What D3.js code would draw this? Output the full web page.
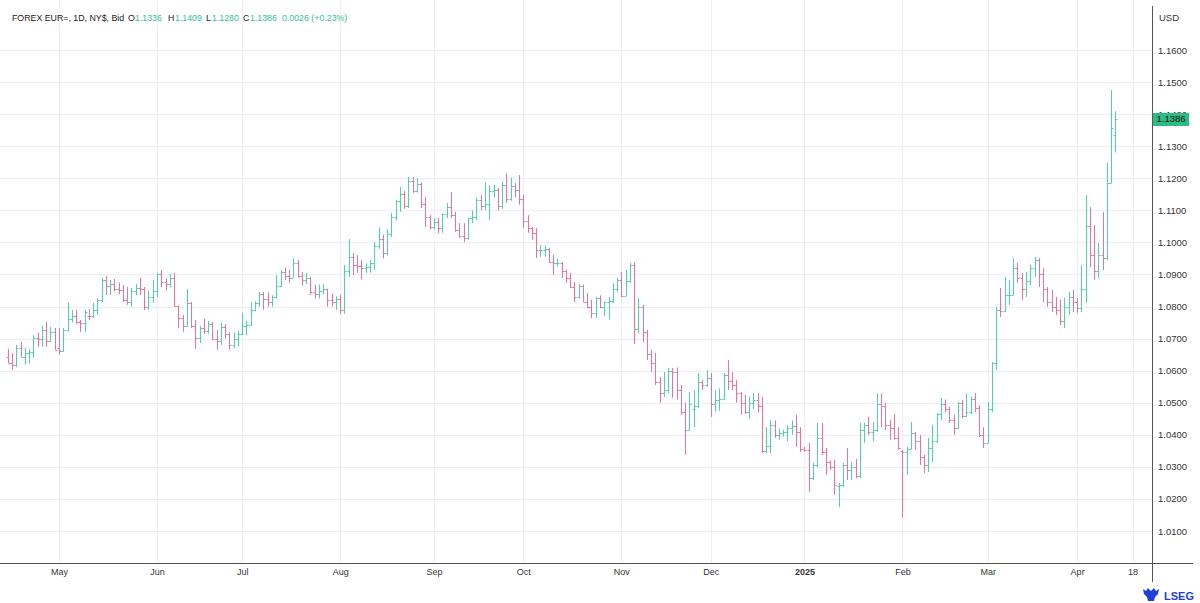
<!DOCTYPE html>
<html>
<head>
<meta charset="utf-8">
<script src="https://cdn.jsdelivr.net/npm/d3@7"></script>
<style>
  body { margin: 0; background: #fff; }
  svg { display: block; font-family: "Liberation Sans", Arial, sans-serif; }
</style>
</head>
<body>
<div id="chart"></div>
<script>
// EUR= daily OHLC, 15 Apr 2024 .. 14 Apr 2025 (one value per weekday)
const firstDay = "2024-04-15";
const lastDay = "2025-04-18";

const open = [
  1.0643,1.0625,1.0617,1.0672,1.0643,1.0655,1.0658,1.0703,1.0698,1.0728,1.0693,1.0720,
  1.0670,1.0660,1.0727,1.0761,1.0770,1.0753,1.0748,1.0772,1.0771,1.0790,1.0820,1.0883,1.0865,1.0870,1.0855,1.0853,1.0820,1.0815,1.0847,1.0857,1.0855,1.0800,1.0830,
  1.0848,1.0902,1.0876,1.0870,1.0890,1.0801,1.0765,1.0740,1.0810,1.0740,1.0702,1.0732,1.0725,1.0745,1.0700,1.0692,1.0735,1.0713,1.0680,1.0700,
  1.0713,1.0740,1.0743,1.0790,1.0810,1.0840,1.0825,1.0813,1.0830,1.0865,1.0908,1.0895,1.0890,1.0937,1.0895,1.0882,1.0890,1.0845,1.0840,1.0850,1.0855,1.0820,1.0815,
  1.0825,1.0790,1.0910,1.0955,1.0930,1.0925,1.0920,1.0922,1.0935,1.0990,1.1012,1.0968,1.1027,1.1080,1.1128,1.1150,1.1113,1.1190,1.1160,1.1183,1.1120,1.1078,
  1.1047,1.1065,1.1045,1.1088,1.1110,1.1085,1.1040,1.1020,1.1015,1.1075,1.1078,1.1133,1.1115,1.1120,1.1160,1.1162,1.1112,1.1180,1.1135,1.1177,1.1163,
  1.1135,1.1068,1.1045,1.1030,1.0975,1.0976,1.0980,1.0940,1.0935,1.0937,1.0910,1.0890,1.0860,1.0830,1.0865,1.0815,1.0798,1.0780,1.0827,1.0797,1.0815,1.0817,1.0855,
  1.0883,1.0833,1.0880,1.0930,1.0730,1.0800,1.0720,1.0653,1.0623,1.0565,1.0530,1.0540,1.0600,1.0595,1.0540,1.0470,1.0415,1.0480,1.0490,1.0565,1.0555,
  1.0577,1.0497,1.0510,1.0512,1.0587,1.0567,1.0555,1.0530,1.0500,1.0470,1.0500,1.0510,1.0490,1.0350,1.0365,1.0430,1.0400,1.0405,1.0408,1.0420,1.0427,1.0410,
  1.0355,1.0352,1.0265,1.0305,1.0390,1.0345,1.0315,1.0300,1.0240,1.0245,1.0305,1.0290,1.0300,1.0270,1.0415,1.0430,1.0410,1.0415,1.0495,1.0490,1.0430,1.0420,1.0390,
  1.0350,1.0345,1.0355,1.0405,1.0380,1.0330,1.0305,1.0360,1.0380,1.0465,1.0495,1.0480,1.0445,1.0420,1.0500,1.0460,1.0470,1.0512,1.0485,1.0400,
  1.0375,1.0480,1.0625,1.0790,1.0785,1.0835,1.0837,1.0920,1.0890,1.0855,1.0880,1.0920,1.0945,1.0900,1.0855,1.0815,1.0800,1.0790,1.0755,1.0800,1.0830,
  1.0815,1.0795,1.0855,1.1050,1.0960,1.0910,1.0960,1.0950,1.1185,1.1336
];
const high = [
  1.0668,1.0655,1.0680,1.0690,1.0671,1.0667,1.0711,1.0718,1.0740,1.0752,1.0736,1.0733,
  1.0733,1.0733,1.0812,1.0790,1.0790,1.0758,1.0789,1.0792,1.0811,1.0827,1.0889,1.0895,1.0883,1.0886,1.0875,1.0867,1.0861,1.0858,1.0870,1.0889,1.0861,1.0850,1.0883,
  1.0905,1.0914,1.0888,1.0902,1.0905,1.0803,1.0774,1.0855,1.0814,1.0758,1.0739,1.0762,1.0755,1.0752,1.0727,1.0749,1.0744,1.0721,1.0720,1.0725,
  1.0780,1.0755,1.0814,1.0817,1.0846,1.0845,1.0844,1.0835,1.0898,1.0914,1.0922,1.0915,1.0951,1.0945,1.0908,1.0905,1.0893,1.0868,1.0869,1.0870,1.0855,1.0840,1.0832,
  1.0836,1.0930,1.1010,1.0967,1.0960,1.0945,1.0935,1.0945,1.1001,1.1047,1.1025,1.1040,1.1092,1.1132,1.1173,1.1160,1.1204,1.1204,1.1200,1.1188,1.1142,1.1085,
  1.1075,1.1076,1.1090,1.1123,1.1157,1.1095,1.1060,1.1060,1.1076,1.1100,1.1139,1.1148,1.1188,1.1179,1.1180,1.1170,1.1190,1.1216,1.1202,1.1185,1.1210,
  1.1148,1.1085,1.1048,1.1045,1.0992,1.0990,1.0983,1.0961,1.0950,1.0939,1.0915,1.0905,1.0877,1.0870,1.0868,1.0842,1.0821,1.0830,1.0835,1.0815,1.0830,1.0873,1.0890,
  1.0908,1.0914,1.0936,1.0939,1.0827,1.0805,1.0727,1.0665,1.0655,1.0580,1.0596,1.0608,1.0608,1.0610,1.0555,1.0500,1.0534,1.0540,1.0593,1.0570,1.0602,
  1.0593,1.0540,1.0545,1.0593,1.0633,1.0595,1.0571,1.0534,1.0525,1.0520,1.0530,1.0530,1.0518,1.0424,1.0446,1.0445,1.0420,1.0415,1.0430,1.0445,1.0462,1.0424,
  1.0362,1.0375,1.0312,1.0437,1.0437,1.0359,1.0320,1.0322,1.0250,1.0312,1.0359,1.0315,1.0325,1.0437,1.0437,1.0456,1.0440,1.0530,1.0530,1.0500,1.0446,1.0465,1.0424,
  1.0353,1.0362,1.0440,1.0409,1.0400,1.0337,1.0390,1.0431,1.0468,1.0515,1.0510,1.0487,1.0462,1.0503,1.0509,1.0530,1.0518,1.0530,1.0493,1.0424,
  1.0503,1.0627,1.0799,1.0858,1.0892,1.0883,1.0951,1.0936,1.0905,1.0908,1.0930,1.0955,1.0951,1.0920,1.0861,1.0852,1.0830,1.0821,1.0827,1.0846,1.0852,
  1.0827,1.0930,1.1148,1.1110,1.1054,1.0998,1.1095,1.1248,1.1475,1.1409
];
const low = [
  1.0624,1.0602,1.0611,1.0643,1.0620,1.0623,1.0640,1.0674,1.0674,1.0674,1.0690,1.0665,
  1.0650,1.0660,1.0722,1.0750,1.0745,1.0721,1.0721,1.0757,1.0764,1.0774,1.0814,1.0836,1.0836,1.0848,1.0838,1.0814,1.0805,1.0800,1.0835,1.0836,1.0789,1.0790,1.0811,
  1.0830,1.0861,1.0850,1.0860,1.0800,1.0733,1.0721,1.0736,1.0733,1.0668,1.0686,1.0715,1.0715,1.0696,1.0665,1.0680,1.0700,1.0665,1.0670,1.0675,
  1.0711,1.0710,1.0740,1.0785,1.0799,1.0790,1.0800,1.0800,1.0825,1.0861,1.0883,1.0873,1.0890,1.0890,1.0865,1.0870,1.0836,1.0825,1.0825,1.0838,1.0799,1.0800,1.0790,
  1.0777,1.0778,1.0892,1.0898,1.0905,1.0883,1.0905,1.0905,1.0914,1.0980,1.0950,1.0960,1.1017,1.1070,1.1095,1.1105,1.1107,1.1154,1.1155,1.1107,1.1048,1.1040,
  1.1040,1.1029,1.1030,1.1076,1.1076,1.1033,1.1014,1.1001,1.1008,1.1060,1.1070,1.1100,1.1100,1.1070,1.1140,1.1100,1.1105,1.1123,1.1130,1.1140,1.1117,
  1.1045,1.1030,1.1008,1.0951,1.0955,1.0955,1.0936,1.0898,1.0925,1.0889,1.0875,1.0858,1.0814,1.0825,1.0815,1.0795,1.0764,1.0765,1.0795,1.0770,1.0760,1.0811,1.0845,
  1.0830,1.0833,1.0873,1.0683,1.0718,1.0689,1.0633,1.0596,1.0555,1.0500,1.0518,1.0530,1.0515,1.0510,1.0462,1.0337,1.0415,1.0424,1.0483,1.0540,1.0549,
  1.0456,1.0471,1.0475,1.0509,1.0540,1.0540,1.0500,1.0462,1.0465,1.0450,1.0480,1.0470,1.0343,1.0343,1.0343,1.0390,1.0385,1.0395,1.0380,1.0400,1.0362,1.0346,
  1.0348,1.0222,1.0259,1.0297,1.0337,1.0275,1.0290,1.0212,1.0175,1.0237,1.0259,1.0260,1.0265,1.0265,1.0375,1.0400,1.0380,1.0409,1.0424,1.0415,1.0384,1.0385,1.0353,
  1.0141,1.0275,1.0355,1.0353,1.0306,1.0281,1.0284,1.0315,1.0375,1.0446,1.0470,1.0437,1.0400,1.0418,1.0452,1.0455,1.0465,1.0471,1.0393,1.0359,
  1.0375,1.0471,1.0602,1.0767,1.0783,1.0805,1.0836,1.0873,1.0820,1.0830,1.0867,1.0892,1.0861,1.0814,1.0799,1.0783,1.0774,1.0742,1.0733,1.0774,1.0783,
  1.0780,1.0783,1.0811,1.0923,1.0883,1.0889,1.0914,1.0945,1.1185,1.1280
];
const close = [
  1.0625,1.0617,1.0672,1.0643,1.0655,1.0658,1.0703,1.0698,1.0728,1.0693,1.0720,1.0666,
  1.0660,1.0727,1.0761,1.0770,1.0753,1.0748,1.0782,1.0771,1.0790,1.0820,1.0883,1.0865,1.0870,1.0855,1.0853,1.0820,1.0815,1.0847,1.0857,1.0855,1.0800,1.0830,1.0848,
  1.0902,1.0876,1.0870,1.0890,1.0801,1.0765,1.0740,1.0810,1.0740,1.0702,1.0732,1.0725,1.0745,1.0700,1.0692,1.0735,1.0713,1.0680,1.0700,1.0713,
  1.0740,1.0743,1.0790,1.0810,1.0840,1.0825,1.0813,1.0830,1.0865,1.0908,1.0895,1.0890,1.0937,1.0895,1.0882,1.0890,1.0845,1.0840,1.0850,1.0855,1.0820,1.0815,1.0825,
  1.0790,1.0910,1.0955,1.0930,1.0925,1.0920,1.0922,1.0935,1.0990,1.1012,1.0968,1.1027,1.1080,1.1128,1.1150,1.1113,1.1190,1.1160,1.1183,1.1120,1.1078,1.1047,
  1.1065,1.1045,1.1088,1.1110,1.1085,1.1040,1.1020,1.1015,1.1075,1.1078,1.1133,1.1115,1.1120,1.1160,1.1162,1.1112,1.1180,1.1135,1.1177,1.1163,1.1135,
  1.1068,1.1045,1.1030,1.0975,1.0976,1.0980,1.0940,1.0935,1.0937,1.0910,1.0890,1.0860,1.0830,1.0865,1.0815,1.0798,1.0780,1.0827,1.0797,1.0815,1.0817,1.0855,1.0883,
  1.0833,1.0880,1.0930,1.0730,1.0800,1.0720,1.0653,1.0623,1.0565,1.0530,1.0540,1.0600,1.0595,1.0540,1.0470,1.0415,1.0495,1.0490,1.0565,1.0555,1.0577,
  1.0497,1.0510,1.0512,1.0587,1.0567,1.0555,1.0530,1.0500,1.0470,1.0500,1.0510,1.0490,1.0350,1.0365,1.0430,1.0400,1.0405,1.0408,1.0420,1.0427,1.0410,1.0355,
  1.0352,1.0265,1.0305,1.0390,1.0345,1.0315,1.0300,1.0245,1.0245,1.0305,1.0290,1.0300,1.0270,1.0415,1.0430,1.0410,1.0415,1.0495,1.0490,1.0430,1.0420,1.0390,1.0360,
  1.0345,1.0355,1.0405,1.0380,1.0330,1.0305,1.0360,1.0380,1.0465,1.0495,1.0480,1.0445,1.0420,1.0500,1.0460,1.0470,1.0512,1.0485,1.0400,1.0375,
  1.0480,1.0625,1.0790,1.0785,1.0835,1.0837,1.0920,1.0890,1.0855,1.0880,1.0920,1.0945,1.0900,1.0855,1.0815,1.0800,1.0790,1.0755,1.0800,1.0830,1.0815,
  1.0795,1.0855,1.1050,1.0960,1.0910,1.0960,1.0950,1.1185,1.1356,1.1386
];

const monthTickDates = ["2024-05-01","2024-06-03","2024-07-01","2024-08-01","2024-09-02","2024-10-01",
  "2024-11-01","2024-12-02","2025-01-01","2025-02-03","2025-03-03","2025-04-01","2025-04-18"];
const monthTickLabels = ["May","Jun","Jul","Aug","Sep","Oct","Nov","Dec","2025","Feb","Mar","Apr","18"];

const header = [
  {t: "FOREX EUR=, 1D, NY$, Bid", c: "#222", x: 12},
  {t: "O", c: "#222", x: 128}, {t: "1.1336", c: "#33c28f", x: 135},
  {t: "H", c: "#222", x: 168}, {t: "1.1409", c: "#33c28f", x: 175},
  {t: "L", c: "#222", x: 206}, {t: "1.1280", c: "#33c28f", x: 212},
  {t: "C", c: "#222", x: 243}, {t: "1.1386", c: "#33c28f", x: 250},
  {t: "0.0026 (+0.23%)", c: "#33c28f", x: 282}
];

const width = 1200, height = 603;
const plotRight = 1152, axisY = 563;
const upColor = "#4fd3a0", downColor = "#ea7399";

// trading calendar: weekdays only
const parse = d3.timeParse("%Y-%m-%d");
const fmt = d3.timeFormat("%Y-%m-%d");
const days = d3.timeDay.range(parse(firstDay), d3.timeDay.offset(parse(lastDay), 1))
  .filter(d => d.getDay() !== 0 && d.getDay() !== 6)
  .map(fmt);

const bars = close.map((c, i) => ({date: days[i], o: open[i], h: high[i], l: low[i], c: c}));

const x = d3.scaleLinear()
  .domain([0, days.indexOf(lastDay)])
  .range([7.9, 1132.5]);

const y = d3.scaleLinear()
  .domain([1.01, 1.16])
  .range([531, 50]);

const svg = d3.select("#chart").append("svg")
  .attr("width", width)
  .attr("height", height);

const tickIdx = monthTickDates.map(d => days.indexOf(d));

// grid
svg.append("g").selectAll("line")
  .data(y.ticks(15))
  .join("line")
  .attr("x1", 0).attr("x2", plotRight)
  .attr("y1", d => Math.round(y(d)) + 0.5).attr("y2", d => Math.round(y(d)) + 0.5)
  .attr("stroke", "#efefef");

svg.append("g").selectAll("line")
  .data(tickIdx)
  .join("line")
  .attr("x1", d => Math.round(x(d)) + 0.5).attr("x2", d => Math.round(x(d)) + 0.5)
  .attr("y1", 0).attr("y2", axisY)
  .attr("stroke", "#efefef");

// OHLC bars
const g = svg.append("g");
const bar = g.selectAll("g")
  .data(bars)
  .join("g")
  .attr("stroke", d => d.c >= d.o ? upColor : downColor)
  .attr("stroke-width", 1);

const cx = (d, i) => Math.round(x(i)) + 0.5;
bar.append("line")
  .attr("x1", cx).attr("x2", cx)
  .attr("y1", d => y(d.h)).attr("y2", d => y(d.l));
bar.append("line")
  .attr("x1", (d, i) => cx(d, i) - 2).attr("x2", cx)
  .attr("y1", d => Math.round(y(d.o)) + 0.5).attr("y2", d => Math.round(y(d.o)) + 0.5);
bar.append("line")
  .attr("x1", cx).attr("x2", (d, i) => cx(d, i) + 2)
  .attr("y1", d => Math.round(y(d.c)) + 0.5).attr("y2", d => Math.round(y(d.c)) + 0.5);

// y axis
const yAxis = svg.append("g")
  .attr("transform", `translate(${plotRight},0)`)
  .call(d3.axisRight(y).ticks(15).tickFormat(d3.format(".4f")).tickSize(0).tickPadding(6));
yAxis.select(".domain").remove();
yAxis.selectAll("text")
  .attr("font-family", "Liberation Sans, Arial, sans-serif")
  .attr("font-size", 9.5)
  .attr("fill", "#333");

// x axis
const xAxis = svg.append("g")
  .attr("transform", `translate(0,${axisY})`)
  .call(d3.axisBottom(x).tickValues(tickIdx).tickFormat((d, i) => monthTickLabels[i]).tickSize(0).tickPadding(6));
xAxis.select(".domain").remove();
xAxis.selectAll("text")
  .attr("font-family", "Liberation Sans, Arial, sans-serif")
  .attr("font-size", 9)
  .attr("fill", "#333")
  .attr("font-weight", (d, i) => monthTickLabels[i] === "2025" ? "bold" : null);

// axis lines
svg.append("line")
  .attr("x1", 0).attr("x2", 1193)
  .attr("y1", axisY + 0.5).attr("y2", axisY + 0.5)
  .attr("stroke", "#555");
svg.append("line")
  .attr("x1", plotRight + 0.5).attr("x2", plotRight + 0.5)
  .attr("y1", 6).attr("y2", 582)
  .attr("stroke", "#555");

svg.append("text")
  .attr("x", 1159).attr("y", 21)
  .attr("font-size", 9.5).attr("fill", "#333")
  .text("USD");

// last price label
const last = bars[bars.length - 1];
svg.append("rect")
  .attr("x", plotRight + 1).attr("y", Math.round(y(last.c)) - 6)
  .attr("width", 36).attr("height", 13)
  .attr("fill", "#2bbd83");
svg.append("text")
  .attr("x", plotRight + 4.5).attr("y", y(last.c))
  .attr("dy", "0.35em")
  .attr("font-size", 9.5).attr("fill", "#111")
  .text(d3.format(".4f")(last.c));

// header
svg.append("text")
  .attr("y", 21)
  .attr("font-size", 8.8)
  .selectAll("tspan")
  .data(header)
  .join("tspan")
  .attr("x", d => d.x)
  .attr("fill", d => d.c)
  .text(d => d.t);

// LSEG mark
const logo = svg.append("g").attr("transform", "translate(1143,588)");
logo.append("path")
  .attr("d", "M0,1 L3,3 L5,0 L8,3 L11,0 L13,3 L16,1 L15,6 L12,9 L11,13 L5,13 L4,9 L1,6 Z")
  .attr("fill", "#1f3fd8");
logo.append("text")
  .attr("x", 21).attr("y", 11.5)
  .attr("font-size", 11).attr("font-weight", "bold")
  .attr("fill", "#1f3fd8")
  .text("LSEG");
</script>
</body>
</html>
